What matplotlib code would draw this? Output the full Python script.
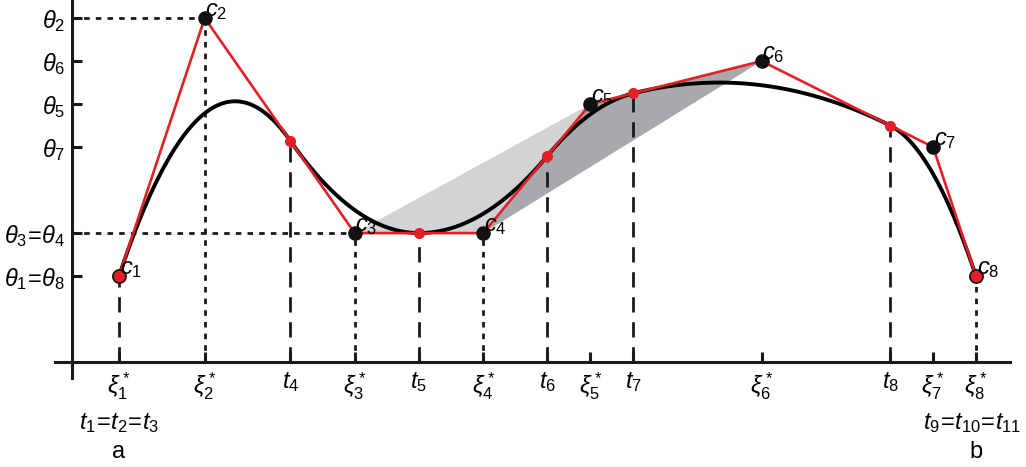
import numpy as np
import matplotlib
matplotlib.use("Agg")
import matplotlib.pyplot as plt

plt.rcParams['mathtext.fontset'] = 'custom'
plt.rcParams['mathtext.rm'] = 'Liberation Sans'
plt.rcParams['mathtext.it'] = 'Liberation Sans:italic'
plt.rcParams['font.family'] = ['Liberation Sans', 'DejaVu Sans']

# ---- data ----
order = 3
knots = [0.0, 0.0, 0.0, 0.2, 0.35, 0.5, 0.6, 0.9, 1.0, 1.0, 1.0]
coefs = [2, 8, 3, 3, 6, 7, 5, 2]
ytick_vals = [2, 3, 5, 6, 7, 8]
ytick_labels = [r'$\theta_1\!=\!\theta_8$', r'$\theta_3\!=\!\theta_4$', r'$\theta_7$',
                r'$\theta_5$', r'$\theta_6$', r'$\theta_2$']
coef_labels = [r'$c_{%d}$' % (i + 1) for i in range(8)]
interior_knot_labels = [r'$t_4$', r'$t_5$', r'$t_6$', r'$t_7$', r'$t_8$']
xi_labels = [r'$\xi^*_{%d}$' % (i + 1) for i in range(8)]

t = np.array(knots)
c = np.array(coefs, dtype=float)
n = len(c)
k = order
xi = np.array([(t[i + 1] + t[i + 2]) / 2 for i in range(n)])  # Greville abscissae


def bspline(x):
    x = np.atleast_1d(x).astype(float)
    B = np.zeros((len(x), len(t) - 1))
    for i in range(len(t) - 1):
        if t[i] < t[i + 1]:
            B[:, i] = (x >= t[i]) & (x < t[i + 1])
    last = np.max(np.nonzero(t[:-1] < t[1:])[0])
    B[x >= t[-1], last] = 1.0
    for kk in range(2, k + 1):
        Bn = np.zeros((len(x), len(t) - kk))
        for i in range(len(t) - kk):
            d1 = t[i + kk - 1] - t[i]
            d2 = t[i + kk] - t[i + 1]
            a = (x - t[i]) / d1 * B[:, i] if d1 > 0 else 0
            b = (t[i + kk] - x) / d2 * B[:, i + 1] if d2 > 0 else 0
            Bn[:, i] = a + b
        B = Bn
    return B @ c


xs = np.linspace(t[0], t[-1], 600)
ys = bspline(xs)
tk = t[k:n]          # interior knots t4..t8
tk_y = bspline(tk)

# ---- figure ----
fig = plt.figure(figsize=(10.26, 4.67), dpi=100)
ax = fig.add_axes([0, 0, 1, 1])
ax.set_xlim(-0.1389, 1.0584)
ax.set_ylim(-2.44, 8.42)

red = '#e41f26'
light = '#d1d3d4'
dark = '#a7a9ac'
FS = 17

# shaded triangles (support hulls)
ax.fill([xi[2], xi[3], xi[4]], [c[2], c[3], c[4]], color=light, lw=0, zorder=1)
ax.fill([xi[3], xi[4], xi[5]], [c[3], c[4], c[5]], color=dark, lw=0, zorder=1)

longdash = dict(color='#1a1a1a', lw=2.0, dashes=(5.5, 3.5), zorder=2)
shortdash = dict(color='#1a1a1a', lw=2.0, dashes=(2, 2.2), zorder=2)

# vertical lines
ax.plot([xi[0], xi[0]], [0, c[0]], **longdash)
for j in [1, 2, 3, 7]:
    ax.plot([xi[j], xi[j]], [0, c[j]], **shortdash)
for xk, yk in zip(tk, tk_y):
    ax.plot([xk, xk], [0, yk], **longdash)

# horizontal dotted guides
yaxis_x = -0.0548
ax.plot([yaxis_x, xi[1]], [c[1], c[1]], **shortdash)
ax.plot([yaxis_x, xi[2]], [c[2], c[2]], **shortdash)

# curve and control polygon
ax.plot(xs, ys, color='#000000', lw=2.8, zorder=3, solid_capstyle='round')
ax.plot(xi, c, color=red, lw=1.9, zorder=4)
ax.plot(tk, tk_y, 'o', color=red, ms=7, mec=red, zorder=5)
ax.plot(xi[1:-1], c[1:-1], 'o', color='#111111', ms=9.5, zorder=5)
ax.plot([xi[0], xi[-1]], [c[0], c[-1]], 'o', color=red, mec='#111111', mew=1.2, ms=9.5, zorder=5)

for x0, y0, lab in zip(xi, c, coef_labels):
    ax.annotate(lab, (x0, y0), xytext=(0.5, 5), textcoords='offset points',
                ha='left', va='center', fontsize=FS, zorder=6)

# axes
for s in ['top', 'right']:
    ax.spines[s].set_visible(False)
ax.spines['left'].set_position(('data', yaxis_x))
ax.spines['bottom'].set_position(('data', 0))
ax.spines['left'].set_bounds(-0.37, 8.42)
ax.spines['bottom'].set_bounds(-0.0747, 1.04)
for s in ['left', 'bottom']:
    ax.spines[s].set_linewidth(2.2)
    ax.spines[s].set_color('#1a1a1a')

xt_pos = list(xi) + list(tk)
xt_lab = list(xi_labels) + list(interior_knot_labels)
ax.set_xticks(xt_pos)
ax.set_xticklabels(xt_lab, fontsize=FS)
ax.set_yticks(ytick_vals)
ax.set_yticklabels(ytick_labels, fontsize=FS)
ax.tick_params(axis='both', direction='in', length=7, width=2.2, color='#1a1a1a')
ax.tick_params(axis='x', pad=6)
ax.tick_params(axis='y', pad=5)

ax.annotate(r'$t_1\!=\!t_2\!=\!t_3$', (t[0], 0), xytext=(0, -44), textcoords='offset points',
            ha='center', va='center', fontsize=FS)
ax.annotate('a', (t[0], 0), xytext=(0, -65), textcoords='offset points',
            ha='center', va='center', fontsize=FS)
ax.annotate(r'$t_9\!=\!t_{10}\!=\!t_{11}$', (t[-1], 0), xytext=(-3, -44), textcoords='offset points',
            ha='center', va='center', fontsize=FS)
ax.annotate('b', (t[-1], 0), xytext=(0, -65), textcoords='offset points',
            ha='center', va='center', fontsize=FS)

fig.savefig('out.png', dpi=100)
